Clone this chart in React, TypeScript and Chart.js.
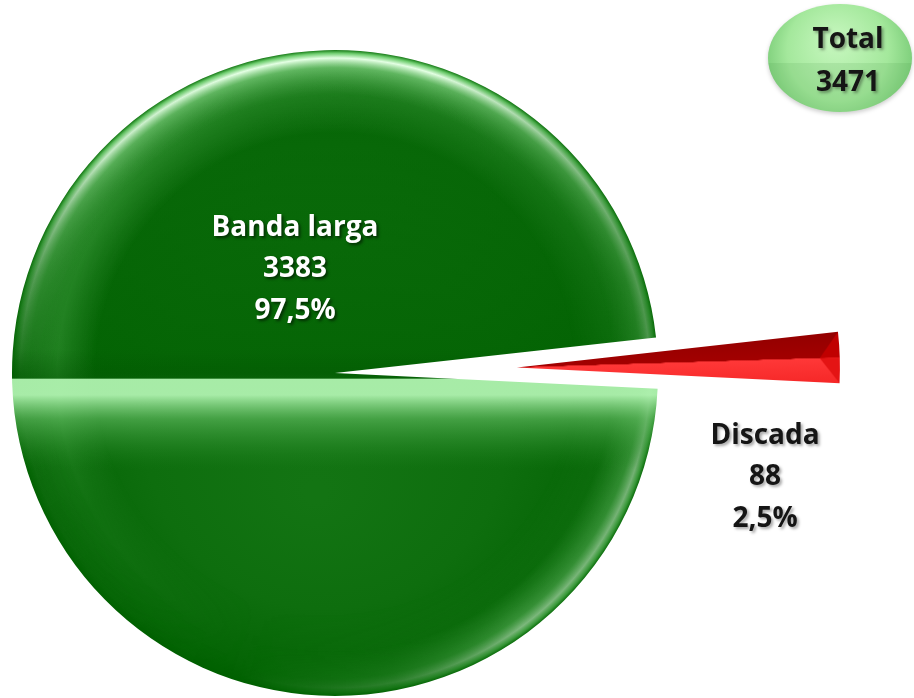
import React, { useEffect, useRef } from "react";
import { Chart, registerables } from "chart.js";

Chart.register(...registerables);

const categories: string[] = ["Banda larga", "Discada"];
const values: number[] = [3383, 88];
const sliceColors: string[] = ["#0b6b0b", "#c00000"];
const totalLabel = "Total";

const FONT = "'Open Sans', 'Liberation Sans', sans-serif";
const RADIUS = 323;
const ROTATION = 92.8;
const EXPLODE = [0, 182];
const W = 914;
const H = 698;

function pct(v: number, total: number): string {
  return (v / total * 100).toFixed(1).replace(".", ",") + "%";
}

function maskedRing(
  cx: number, cy: number, R: number,
  ringStops: [number, string][],
  maskStops: [number, number][]
): HTMLCanvasElement {
  const cv = document.createElement("canvas");
  cv.width = W; cv.height = H;
  const r = cv.getContext("2d") as CanvasRenderingContext2D;
  const rg = r.createRadialGradient(cx, cy, 0, cx, cy, R);
  ringStops.forEach(([o, col]) => rg.addColorStop(o, col));
  r.fillStyle = rg;
  r.fillRect(0, 0, W, H);
  r.globalCompositeOperation = "destination-in";
  const cg = (r as any).createConicGradient(0, cx, cy);
  maskStops.forEach(([o, a]) => cg.addColorStop(o, `rgba(0,0,0,${a})`));
  r.fillStyle = cg;
  r.fillRect(0, 0, W, H);
  return cv;
}

function buildGreen(cx: number, cy: number, R: number): HTMLCanvasElement {
  const off = document.createElement("canvas");
  off.width = W; off.height = H;
  const g = off.getContext("2d") as CanvasRenderingContext2D;
  const base = g.createRadialGradient(cx - 20, cy + 120, 10, cx, cy, R);
  base.addColorStop(0, "#137413");
  base.addColorStop(0.55, "#0e6e0e");
  base.addColorStop(0.9, "#056505");
  base.addColorStop(1, "#006000");
  g.fillStyle = base;
  g.fillRect(0, 0, W, H);
  // upper half slightly darker uniform
  const up = g.createLinearGradient(0, cy - R, 0, cy + 10);
  up.addColorStop(0, "rgba(8,104,8,0)");
  up.addColorStop(0.3, "rgba(8,104,8,0.6)");
  up.addColorStop(0.97, "rgba(2,98,2,0.8)");
  up.addColorStop(1, "rgba(2,98,2,0)");
  g.fillStyle = up;
  g.fillRect(0, 0, W, cy + 6);
  // wide soft bevel band
  g.drawImage(maskedRing(cx, cy, R,
    [[0, "rgba(70,160,70,0)"], [0.74, "rgba(70,160,70,0)"], [0.86, "rgba(70,165,70,0.55)"], [0.95, "rgba(60,150,60,0.3)"], [1, "rgba(20,110,20,0.2)"]],
    [[0, 0.2], [0.2, 0.1], [0.3, 0], [0.42, 0.3], [0.5, 0.8], [0.6, 0.9], [0.7, 0.7], [0.8, 0.6], [0.9, 0.4], [1, 0.2]]
  ), 0, 0);
  // bright rim
  g.drawImage(maskedRing(cx, cy, R,
    [[0, "rgba(150,230,150,0)"], [0.86, "rgba(120,210,120,0)"], [0.945, "rgba(150,230,150,0.6)"], [0.975, "rgba(228,255,228,1)"], [0.99, "rgba(110,205,110,1)"], [1, "rgba(20,120,20,1)"]],
    [[0, 0.3], [0.05, 0.5], [0.15, 0.55], [0.22, 0.2], [0.3, 0], [0.5, 0.05], [0.55, 0.35], [0.62, 0.85], [0.7, 1], [0.8, 1], [0.88, 0.6], [0.95, 0.35], [1, 0.3]]
  ), 0, 0);
  // bevel highlight below the horizontal split
  const y0 = cy + 6;
  const band = g.createLinearGradient(0, y0 - 30, 0, y0 + 90);
  const s = (y: number, col: string) => band.addColorStop((y - (y0 - 30)) / 120, col);
  s(y0 - 30, "rgba(0,80,0,0)");
  s(y0 - 1, "rgba(0,80,0,0.35)");
  s(y0, "rgba(175,242,175,0.95)");
  s(y0 + 16, "rgba(180,246,180,0.92)");
  s(y0 + 40, "rgba(110,200,110,0.55)");
  s(y0 + 90, "rgba(40,140,40,0)");
  g.fillStyle = band;
  g.fillRect(0, y0 - 30, W, 120);
  return off;
}

function buildRed(cx: number, cy: number, R: number, a0: number, a1: number): HTMLCanvasElement {
  const off = document.createElement("canvas");
  off.width = W; off.height = H;
  const g = off.getContext("2d") as CanvasRenderingContext2D;
  const mid = (a0 + a1) / 2;
  const nx = -Math.sin(mid), ny = Math.cos(mid);
  const lg = g.createLinearGradient(cx - nx * 40, cy - ny * 40, cx + nx * 40, cy + ny * 40);
  lg.addColorStop(0, "#8a0000");
  lg.addColorStop(0.499, "#a20000");
  lg.addColorStop(0.501, "#ff3838");
  lg.addColorStop(1, "#f01e1e");
  g.fillStyle = lg;
  g.fillRect(0, 0, W, H);
  const pt = (ang: number, rad: number): [number, number] => [cx + Math.cos(ang) * rad, cy + Math.sin(ang) * rad];
  const inner = pt(mid, R - 20);
  const outer = pt(mid, R + 30);
  const top = pt(a0, R + 30);
  const bot = pt(a1, R + 30);
  g.beginPath();
  g.moveTo(...inner); g.lineTo(...pt(a0, R)); g.lineTo(...top); g.lineTo(...outer); g.closePath();
  g.fillStyle = "#c00000";
  g.fill();
  g.beginPath();
  g.moveTo(...inner); g.lineTo(...pt(a1, R)); g.lineTo(...bot); g.lineTo(...outer); g.closePath();
  g.fillStyle = "#e41414";
  g.fill();
  return off;
}

export default function App() {
  const ref = useRef<HTMLCanvasElement | null>(null);

  useEffect(() => {
    if (!ref.current) return;
    const total = values.reduce((a, b) => a + b, 0);

    const explodePlugin = {
      id: "explode",
      beforeDatasetDraw(chart: any, args: any) {
        const c: CanvasRenderingContext2D = chart.ctx;
        args.meta.data.forEach((arc: any, i: number) => {
          const d = EXPLODE[i] || 0;
          const mid = (arc.startAngle + arc.endAngle) / 2;
          c.save();
          c.translate(Math.cos(mid) * d, Math.sin(mid) * d);
          arc.draw(c, chart.chartArea);
          c.restore();
        });
        return false;
      },
    };

    const labelPlugin = {
      id: "pieLabels",
      beforeDatasetsDraw(chart: any) {
        const c: CanvasRenderingContext2D = chart.ctx;
        const bx = 840, by = 58, rx = 72, ry = 54;
        c.save();
        const rg = c.createRadialGradient(bx - 5, by - 18, 5, bx, by, 88);
        rg.addColorStop(0, "#c4f6bc");
        rg.addColorStop(0.55, "#a4e89c");
        rg.addColorStop(1, "#68c068");
        c.beginPath();
        c.ellipse(bx, by, rx, ry, 0, 0, Math.PI * 2);
        c.fillStyle = rg;
        c.shadowColor = "rgba(0,0,0,0.2)";
        c.shadowBlur = 4;
        c.shadowOffsetY = 2;
        c.fill();
        c.shadowColor = "transparent";
        c.beginPath();
        c.ellipse(bx, by, rx, ry, 0, 0.03 * Math.PI, 0.97 * Math.PI);
        c.closePath();
        c.fillStyle = "rgba(60,140,60,0.12)";
        c.fill();
        c.font = `bold 28px ${FONT}`;
        c.textAlign = "center";
        c.textBaseline = "middle";
        c.fillStyle = "#151515";
        c.shadowColor = "rgba(0,0,0,0.35)";
        c.shadowBlur = 3;
        c.shadowOffsetX = 2;
        c.shadowOffsetY = 2;
        c.fillText(totalLabel, bx + 8, 40);
        c.fillText(String(total), bx + 8, 83);
        c.restore();
      },
      afterDatasetsDraw(chart: any) {
        const c: CanvasRenderingContext2D = chart.ctx;
        const meta = chart.getDatasetMeta(0);
        const arc0 = meta.data[0];
        const cx = arc0.x, cy = arc0.y;
        const spots = [
          { x: cx - 40, y: cy - 103, color: "#ffffff", shadow: "rgba(0,0,0,0.55)" },
          { x: cx + 430, y: cy + 105, color: "#151515", shadow: "rgba(0,0,0,0.35)" },
        ];
        c.save();
        c.font = `bold 28px ${FONT}`;
        c.textAlign = "center";
        c.textBaseline = "middle";
        categories.forEach((name, i) => {
          const s = spots[i];
          const lines = [name, String(values[i]), pct(values[i], total)];
          c.fillStyle = s.color;
          c.shadowColor = s.shadow;
          c.shadowBlur = 3;
          c.shadowOffsetX = 2;
          c.shadowOffsetY = 2;
          lines.forEach((t, k) => c.fillText(t, s.x, s.y - 42 + k * 41.5));
        });
        c.restore();
      },
    };

    let greenCache: HTMLCanvasElement | null = null;
    let redCache: HTMLCanvasElement | null = null;

    const chart = new Chart(ref.current, {
      type: "pie",
      data: {
        labels: categories,
        datasets: [
          {
            data: values,
            borderWidth: 0,
            backgroundColor: (ctx: any) => {
              const chart = ctx.chart;
              const area = chart.chartArea;
              const i = ctx.dataIndex;
              if (!area) return sliceColors[i];
              const c: CanvasRenderingContext2D = chart.ctx;
              const cx = (area.left + area.right) / 2;
              const cy = (area.top + area.bottom) / 2;
              if (i === 0) {
                if (!greenCache) greenCache = buildGreen(cx, cy, RADIUS);
                return c.createPattern(greenCache, "no-repeat") || sliceColors[i];
              }
              const sum = values.reduce((a, b) => a + b, 0);
              const before = values.slice(0, i).reduce((a, b) => a + b, 0);
              const a0 = (-90 + ROTATION) * Math.PI / 180 + (before / sum) * Math.PI * 2;
              const a1 = a0 + (values[i] / sum) * Math.PI * 2;
              if (!redCache) redCache = buildRed(cx, cy, RADIUS, a0, a1);
              return c.createPattern(redCache, "no-repeat") || sliceColors[i];
            },
          },
        ],
      },
      options: {
        responsive: false,
        animation: false,
        events: [],
        rotation: ROTATION,
        radius: RADIUS,
        layout: { padding: { left: 0, right: 244, top: 48, bottom: 0 } },
        plugins: {
          legend: { display: false },
          tooltip: { enabled: false },
        },
      } as any,
      plugins: [explodePlugin, labelPlugin],
    });
    return () => chart.destroy();
  }, []);

  return (
    <div style={{ position: "fixed", left: 0, top: 0, width: W, height: H, background: "#ffffff" }}>
      <canvas ref={ref} width={W} height={H} style={{ width: W, height: H, display: "block" }} />
    </div>
  );
}
